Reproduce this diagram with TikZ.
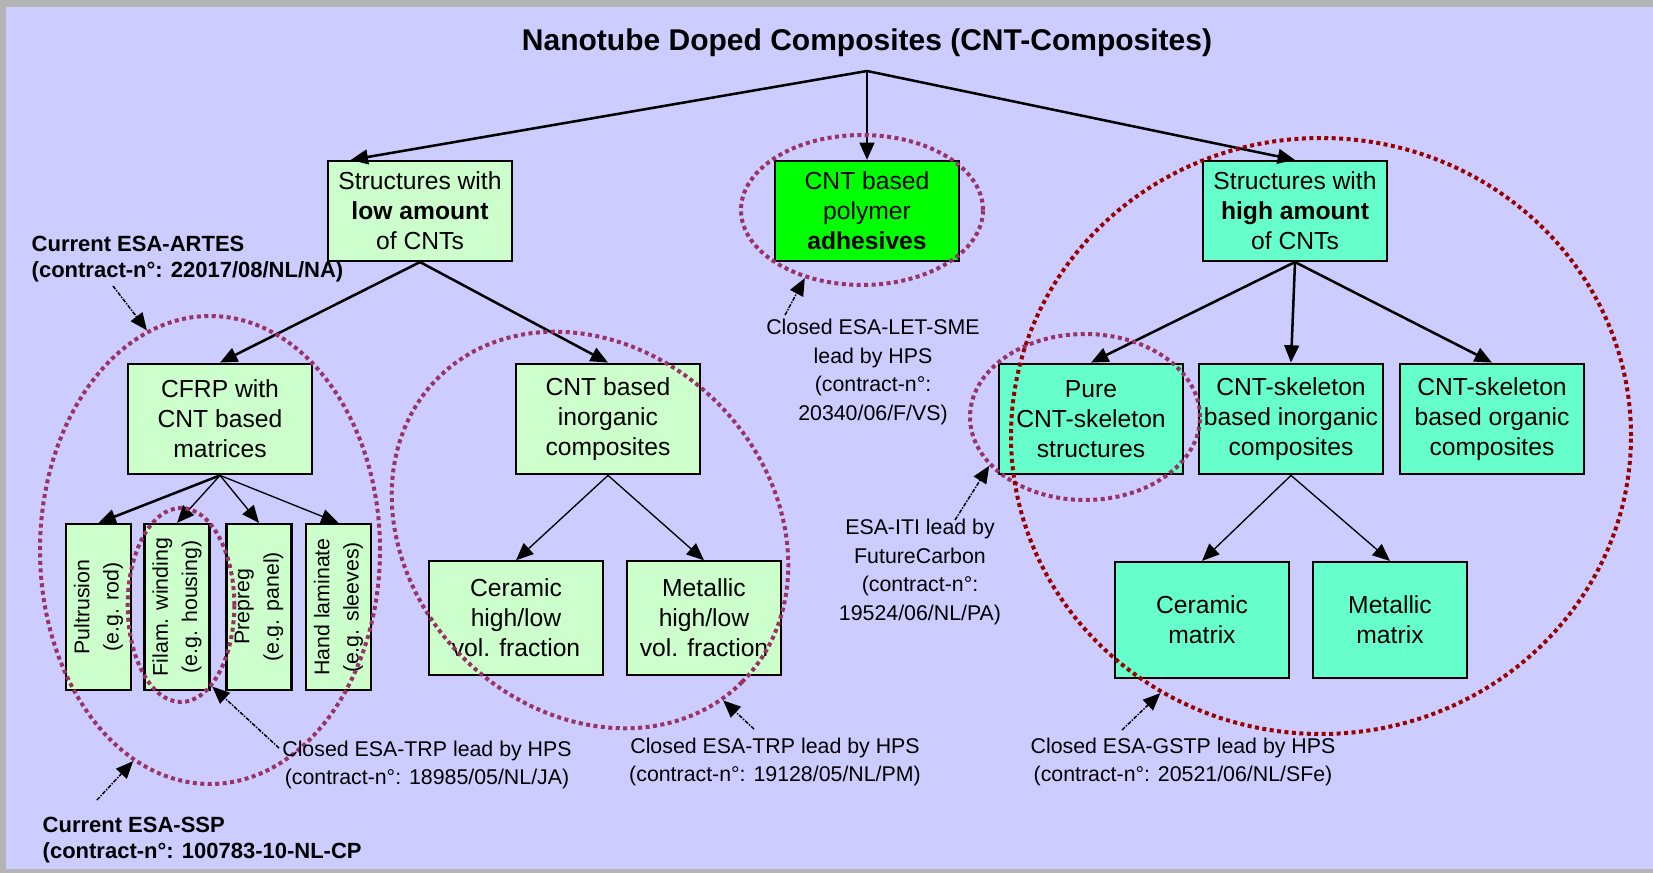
\documentclass[tikz,border=0pt]{standalone}
\usepackage{fontspec}
\setmainfont{Liberation Sans}
\usetikzlibrary{arrows.meta}
\usetikzlibrary{shapes.geometric}

\definecolor{bgblue}{HTML}{CCCCFF}
\definecolor{framegray}{HTML}{B4B4B4}
\definecolor{palegreen}{HTML}{CCFFCC}
\definecolor{brightgreen}{HTML}{00FF00}
\definecolor{aqua}{HTML}{66FFCC}
\definecolor{ringplum}{HTML}{993366}
\definecolor{ringred}{HTML}{990000}

\tikzset{
    box/.style={draw, line width=1.6pt, inner sep=0pt, align=center, font=\fontsize{18.5}{22.5}\selectfont},
    toprow/.style={minimum width=138.4pt, minimum height=75pt},
    midrow/.style={minimum width=138pt, minimum height=83pt},
    upright/.style={box, fill=palegreen, rotate=90, minimum width=124.5pt, minimum height=48.75pt, font=\fontsize{16}{22}\selectfont},
    ring/.style={ellipse, draw=ringplum, line width=3pt, dash pattern=on 3pt off 2.6pt, inner sep=0pt},
    main/.style={line width=1.9pt, -{Triangle[length=13pt,width=11pt]}},
    sub/.style={line width=1pt, -{Triangle[length=13pt,width=11pt]}},
    pointer/.style={line width=1.1pt, densely dashdotted, -{Triangle[length=13pt,width=11pt]}},
    note/.style={align=center, font=\fontsize{16}{21.4}\selectfont},
    tag/.style={align=left, anchor=west, font=\fontsize{16.5}{19.8}\selectfont\bfseries},
}

\begin{document}
\begin{tikzpicture}[x=0.75pt, y=-0.75pt]
    \useasboundingbox (0,0) rectangle (1653,873);
    \fill [framegray] (0,0) rectangle (1653,873);
    \fill [bgblue] (6,7) rectangle (1653,869);

    \node [font=\fontsize{22.5}{27}\selectfont\bfseries] (title) at (867,43) {Nanotube Doped Composites (CNT-Composites)};
    \coordinate (root) at (867,71);

    \node [box, toprow, fill=palegreen] (low) at (420,211) {Structures with\\\textbf{low amount}\\of CNTs};
    \node [box, toprow, fill=brightgreen] (glue) at (867,211) {CNT based\\polymer\\\textbf{adhesives}};
    \node [box, toprow, fill=aqua] (high) at (1295,211) {Structures with\\\textbf{high amount}\\of CNTs};

    \node [box, midrow, fill=palegreen] (cfrp) at (220,419) {CFRP with\\CNT based\\matrices};
    \node [box, midrow, fill=palegreen] (inorg) at (608,419) {CNT based\\inorganic\\composites};
    \node [box, midrow, fill=aqua] (pure) at (1091,419) {Pure\\CNT-skeleton\\structures};
    \node [box, midrow, fill=aqua] (skelinorg) at (1291,419) {CNT-skeleton\\based inorganic\\composites};
    \node [box, midrow, fill=aqua] (skelorg) at (1492,419) {CNT-skeleton\\based organic\\composites};

    \node [upright] (pult) at (98.5,607) {Pultrusion\\(e.g. rod)};
    \node [upright] (wind) at (177,607) {Filam. winding\\(e.g. housing)};
    \node [upright] (prepreg) at (259,607) {Prepreg\\(e.g. panel)};
    \node [upright] (hand) at (338.5,607) {Hand laminate\\(e.g. sleeves)};

    \node [box, fill=palegreen, minimum width=130.5pt, minimum height=85pt] (cerhl) at (516,618) {Ceramic\\high/low\\vol. fraction};
    \node [box, fill=palegreen, minimum width=115.5pt, minimum height=85pt] (methl) at (704,618) {Metallic\\high/low\\vol. fraction};
    \node [box, fill=aqua, minimum width=130pt, minimum height=87pt] (cermat) at (1202,620) {Ceramic\\matrix};
    \node [box, fill=aqua, minimum width=116pt, minimum height=87pt] (metmat) at (1390,620) {Metallic\\matrix};

    \draw [main] (root) -- ([xshift=-52pt]low.north);
    \draw [main] (root) -- (glue.north);
    \draw [main] (root) -- (high.north);
    \draw [main] (low.south) -- (cfrp.north);
    \draw [main] (low.south) -- (inorg.north);
    \draw [main] (high.south) -- (pure.north);
    \draw [main] (high.south) -- (skelinorg.north);
    \draw [main] (high.south) -- (skelorg.north);
    \draw [main] (cfrp.south) -- (pult.east);
    \draw [sub] (cfrp.south) -- (wind.east);
    \draw [sub] (cfrp.south) -- (prepreg.east);
    \draw [sub] (cfrp.south) -- (hand.east);
    \draw [sub] (inorg.south) -- (cerhl.north);
    \draw [sub] (inorg.south) -- (methl.north);
    \draw [sub] (skelinorg.south) -- (cermat.north);
    \draw [sub] (skelinorg.south) -- (metmat.north);

    \node [ring, minimum width=255pt, minimum height=351pt] (ringcfrp) at (210,550) {};
    \node [ring, minimum width=80pt, minimum height=145.5pt] (ringwind) at (181,605) {};
    \node [ring, rotate=-45, minimum width=322.5pt, minimum height=270pt] (ringinorg) at (590,530) {};
    \node [ring, minimum width=181.5pt, minimum height=112.5pt] (ringglue) at (862,210) {};
    \node [ring, minimum width=172.5pt, minimum height=124.5pt] (ringpure) at (1085,417) {};
    \node [ring, draw=ringred, minimum width=465pt, minimum height=447pt] (ringhigh) at (1321,436) {};

    \node [tag] (artes) at (27,259) {Current ESA-ARTES\\(contract-n°: 22017/08/NL/NA)};
    \node [tag] (ssp) at (38,840) {Current ESA-SSP\\(contract-n°: 100783-10-NL-CP};
    \node [note] (trpa) at (427,765) {Closed ESA-TRP lead by HPS\\(contract-n°: 18985/05/NL/JA)};
    \node [note] (trpb) at (775,762) {Closed ESA-TRP lead by HPS\\(contract-n°: 19128/05/NL/PM)};
    \node [note] (let) at (873,372) {Closed ESA-LET-SME\\lead by HPS\\(contract-n°:\\20340/06/F/VS)};
    \node [note] (iti) at (920,572) {ESA-ITI lead by\\FutureCarbon\\(contract-n°:\\19524/06/NL/PA)};
    \node [note] (gstp) at (1183,762) {Closed ESA-GSTP lead by HPS\\(contract-n°: 20521/06/NL/SFe)};

    \coordinate (artestail) at (113,286);
    \coordinate (ssptail) at (97,800);
    \coordinate (trpatail) at (279,748);
    \coordinate (trpbtail) at (754,729);
    \coordinate (lettail) at (785,315);
    \coordinate (ititail) at (955,520);
    \coordinate (gstptail) at (1122,730);

    \draw [pointer] (artestail) -- (ringcfrp.106);
    \draw [pointer] (ssptail) -- (ringcfrp.250);
    \draw [pointer] (trpatail) -- (ringwind.291);
    \draw [pointer] (trpbtail) -- (ringinorg.353);
    \draw [pointer] (lettail) -- (ringglue.230);
    \draw [pointer] (ititail) -- (ringpure.207);
    \draw [pointer] (gstptail) -- (ringhigh.238);
\end{tikzpicture}
\end{document}
